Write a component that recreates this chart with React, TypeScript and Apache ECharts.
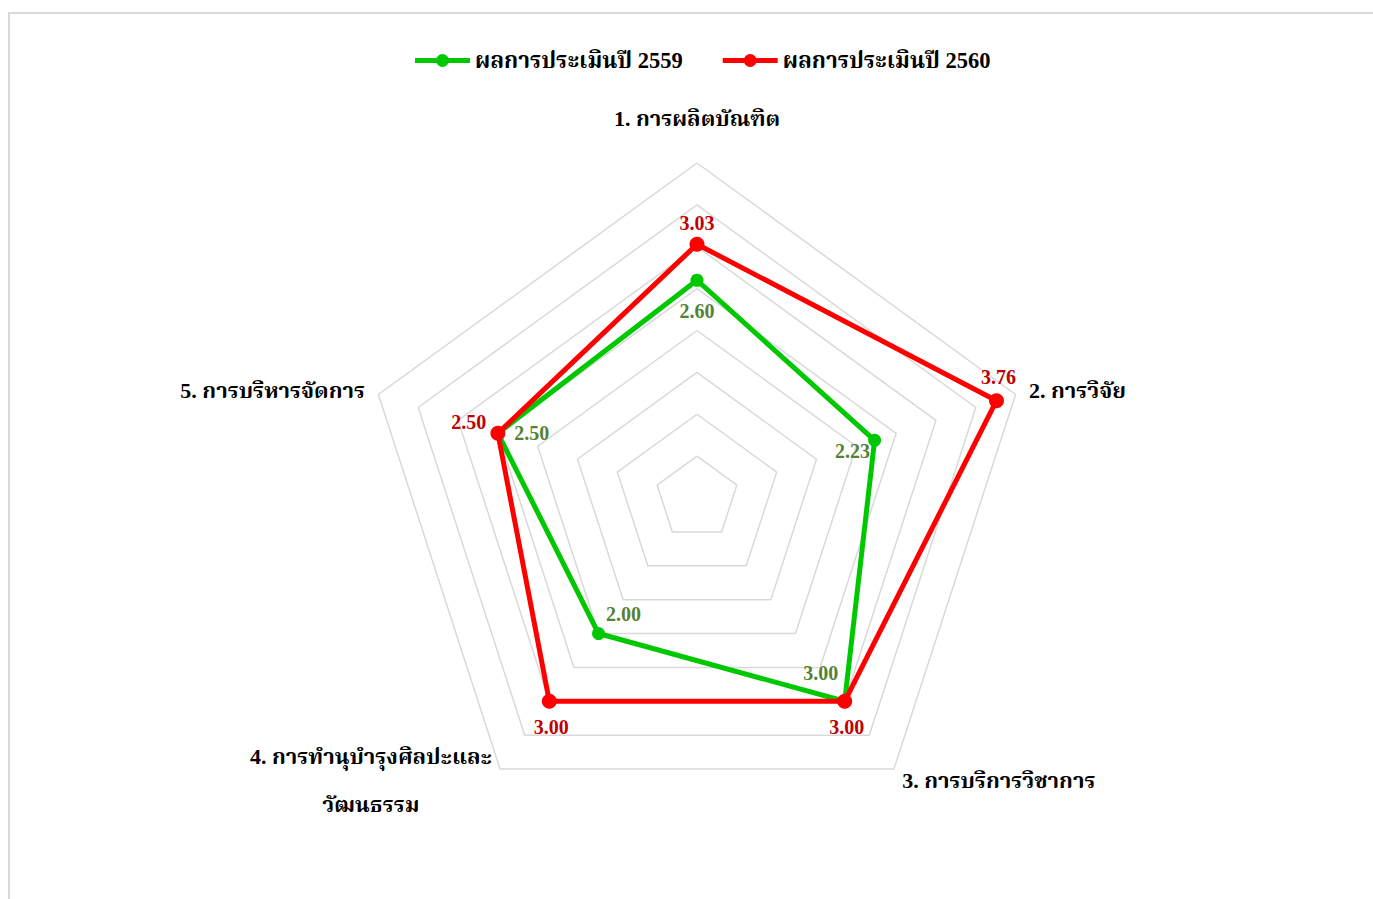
import React, { useEffect, useRef } from "react";
import * as echarts from "echarts";

const categories = [
  "1. การผลิตบัณฑิต",
  "2. การวิจัย",
  "3. การบริการวิชาการ",
  "4. การทำนุบำรุงศิลปะและ\nวัฒนธรรม",
  "5. การบริหารจัดการ",
];
const seriesNames = ["ผลการประเมินปี 2559", "ผลการประเมินปี 2560"];
const values2559 = [2.6, 2.23, 3.0, 2.0, 2.5];
const values2560 = [3.03, 3.76, 3.0, 3.0, 2.5];
const axisMax = 4;
const axisSplits = 8;

// clockwise display order (ECharts places indicators counter-clockwise)
const order = [0, 4, 3, 2, 1];

// label offsets (dx, dy) around each point, natural category order
const greenOffsets = [[0, 31], [-22, 11], [-24, -28], [25, -20], [34, 0]];
const redOffsets = [[0, -21], [2, -24], [2, 26], [-3, 28], [-29, -11]];

const FONT = "'Liberation Serif', 'Times New Roman', 'Noto Serif Thai', 'Noto Sans Thai', serif";

function padFor(o: number[]) {
  const [dx, dy] = o;
  return [Math.max(0, 2 * dy), Math.max(0, -2 * dx), Math.max(0, -2 * dy), Math.max(0, 2 * dx)];
}

function buildRich(prefix: string, offsets: number[][], color: string) {
  const rich: any = {};
  offsets.forEach((o, i) => {
    rich[prefix + i] = {
      fontSize: 20,
      fontWeight: "bold",
      fontFamily: FONT,
      color,
      padding: padFor(o),
    };
  });
  return rich;
}

export default function App() {
  const ref = useRef<HTMLDivElement>(null);
  useEffect(() => {
    if (!ref.current) return;
    const chart = echarts.init(ref.current, undefined, { renderer: "svg" });
    const indicators = order.map((i) => ({ name: categories[i], max: axisMax, min: 0 }));
    const nameStyle: any = {
      fontSize: 22,
      fontWeight: "bold",
      fontFamily: FONT,
      color: "#000",
    };
    const makeLabel = (prefix: string, vals: number[], offsets: number[][], color: string) => ({
      show: true,
      position: "inside",
      formatter: (p: any) => {
        const v = Array.isArray(p.value) ? p.value[0] : p.value;
        let idx = vals.findIndex((x) => Math.abs(x - v) < 1e-9);
        if (idx < 0) idx = 0;
        return "{" + prefix + idx + "|" + Number(v).toFixed(2) + "}";
      },
      rich: buildRich(prefix, offsets, color),
    });
    const legendIcon =
      "path://M0,4.5h55v5h-55z M21,7a6.5,6.5 0 1,1 13,0a6.5,6.5 0 1,1 -13,0z";
    chart.setOption({
      animation: false,
      legend: {
        data: [
          { name: seriesNames[0], icon: legendIcon, itemStyle: { color: "#00c800" } },
          { name: seriesNames[1], icon: legendIcon, itemStyle: { color: "#ff0000" } },
        ],
        top: 44,
        left: 410,
        itemGap: 40,
        itemWidth: 55,
        itemHeight: 14,
        textStyle: { fontSize: 22.5, fontWeight: "bold", fontFamily: FONT, color: "#000" },
      },
      radar: {
        center: [697, 498],
        radius: 335,
        startAngle: 90,
        shape: "polygon",
        splitNumber: axisSplits,
        nameGap: 14,
        indicator: indicators,
        axisName: {
          ...nameStyle,
          formatter: (name: string) => {
            if (name.indexOf("\n") >= 0) {
              return name
                .split("\n")
                .map((l) => "{m|" + l + "}")
                .join("\n");
            }
            if (name === categories[0]) return "{t|" + name + "}";
            return "{n|" + name + "}";
          },
          rich: {
            n: { ...nameStyle },
            t: { ...nameStyle, padding: [0, 0, 20, 0] },
            m: { ...nameStyle, align: "center", lineHeight: 48 },
          },
        },
        axisLine: { show: false },
        axisTick: { show: false },
        axisLabel: { show: false },
        splitArea: { show: false },
        splitLine: { lineStyle: { color: "#d9d9d9", width: 1.5 } },
      },
      series: [
        {
          type: "radar",
          name: "radar",
          z: 2,
          data: [
            {
              name: seriesNames[0],
              value: order.map((i) => values2559[i]),
              symbol: "circle",
              symbolSize: 13,
              itemStyle: { color: "#00c800" },
              lineStyle: { color: "#00c800", width: 5 },
              label: makeLabel("g", values2559, greenOffsets, "#548235"),
            },
            {
              name: seriesNames[1],
              value: order.map((i) => values2560[i]),
              symbol: "circle",
              symbolSize: 15,
              itemStyle: { color: "#ff0000" },
              lineStyle: { color: "#ff0000", width: 5 },
              label: makeLabel("r", values2560, redOffsets, "#c00000"),
            },
          ],
        },
      ],
    });
    return () => chart.dispose();
  }, []);
  return (
    <div
      style={{
        position: "fixed",
        left: 0,
        top: 0,
        width: 1373,
        height: 899,
        overflow: "hidden",
        background: "#fff",
      }}
    >
      <div
        style={{
          position: "absolute",
          left: 8,
          top: 12,
          width: 1600,
          height: 1200,
          border: "2px solid #d9d9d9",
          boxSizing: "border-box",
        }}
      />
      <div ref={ref} style={{ position: "absolute", left: 0, top: 0, width: 1373, height: 899 }} />
    </div>
  );
}
